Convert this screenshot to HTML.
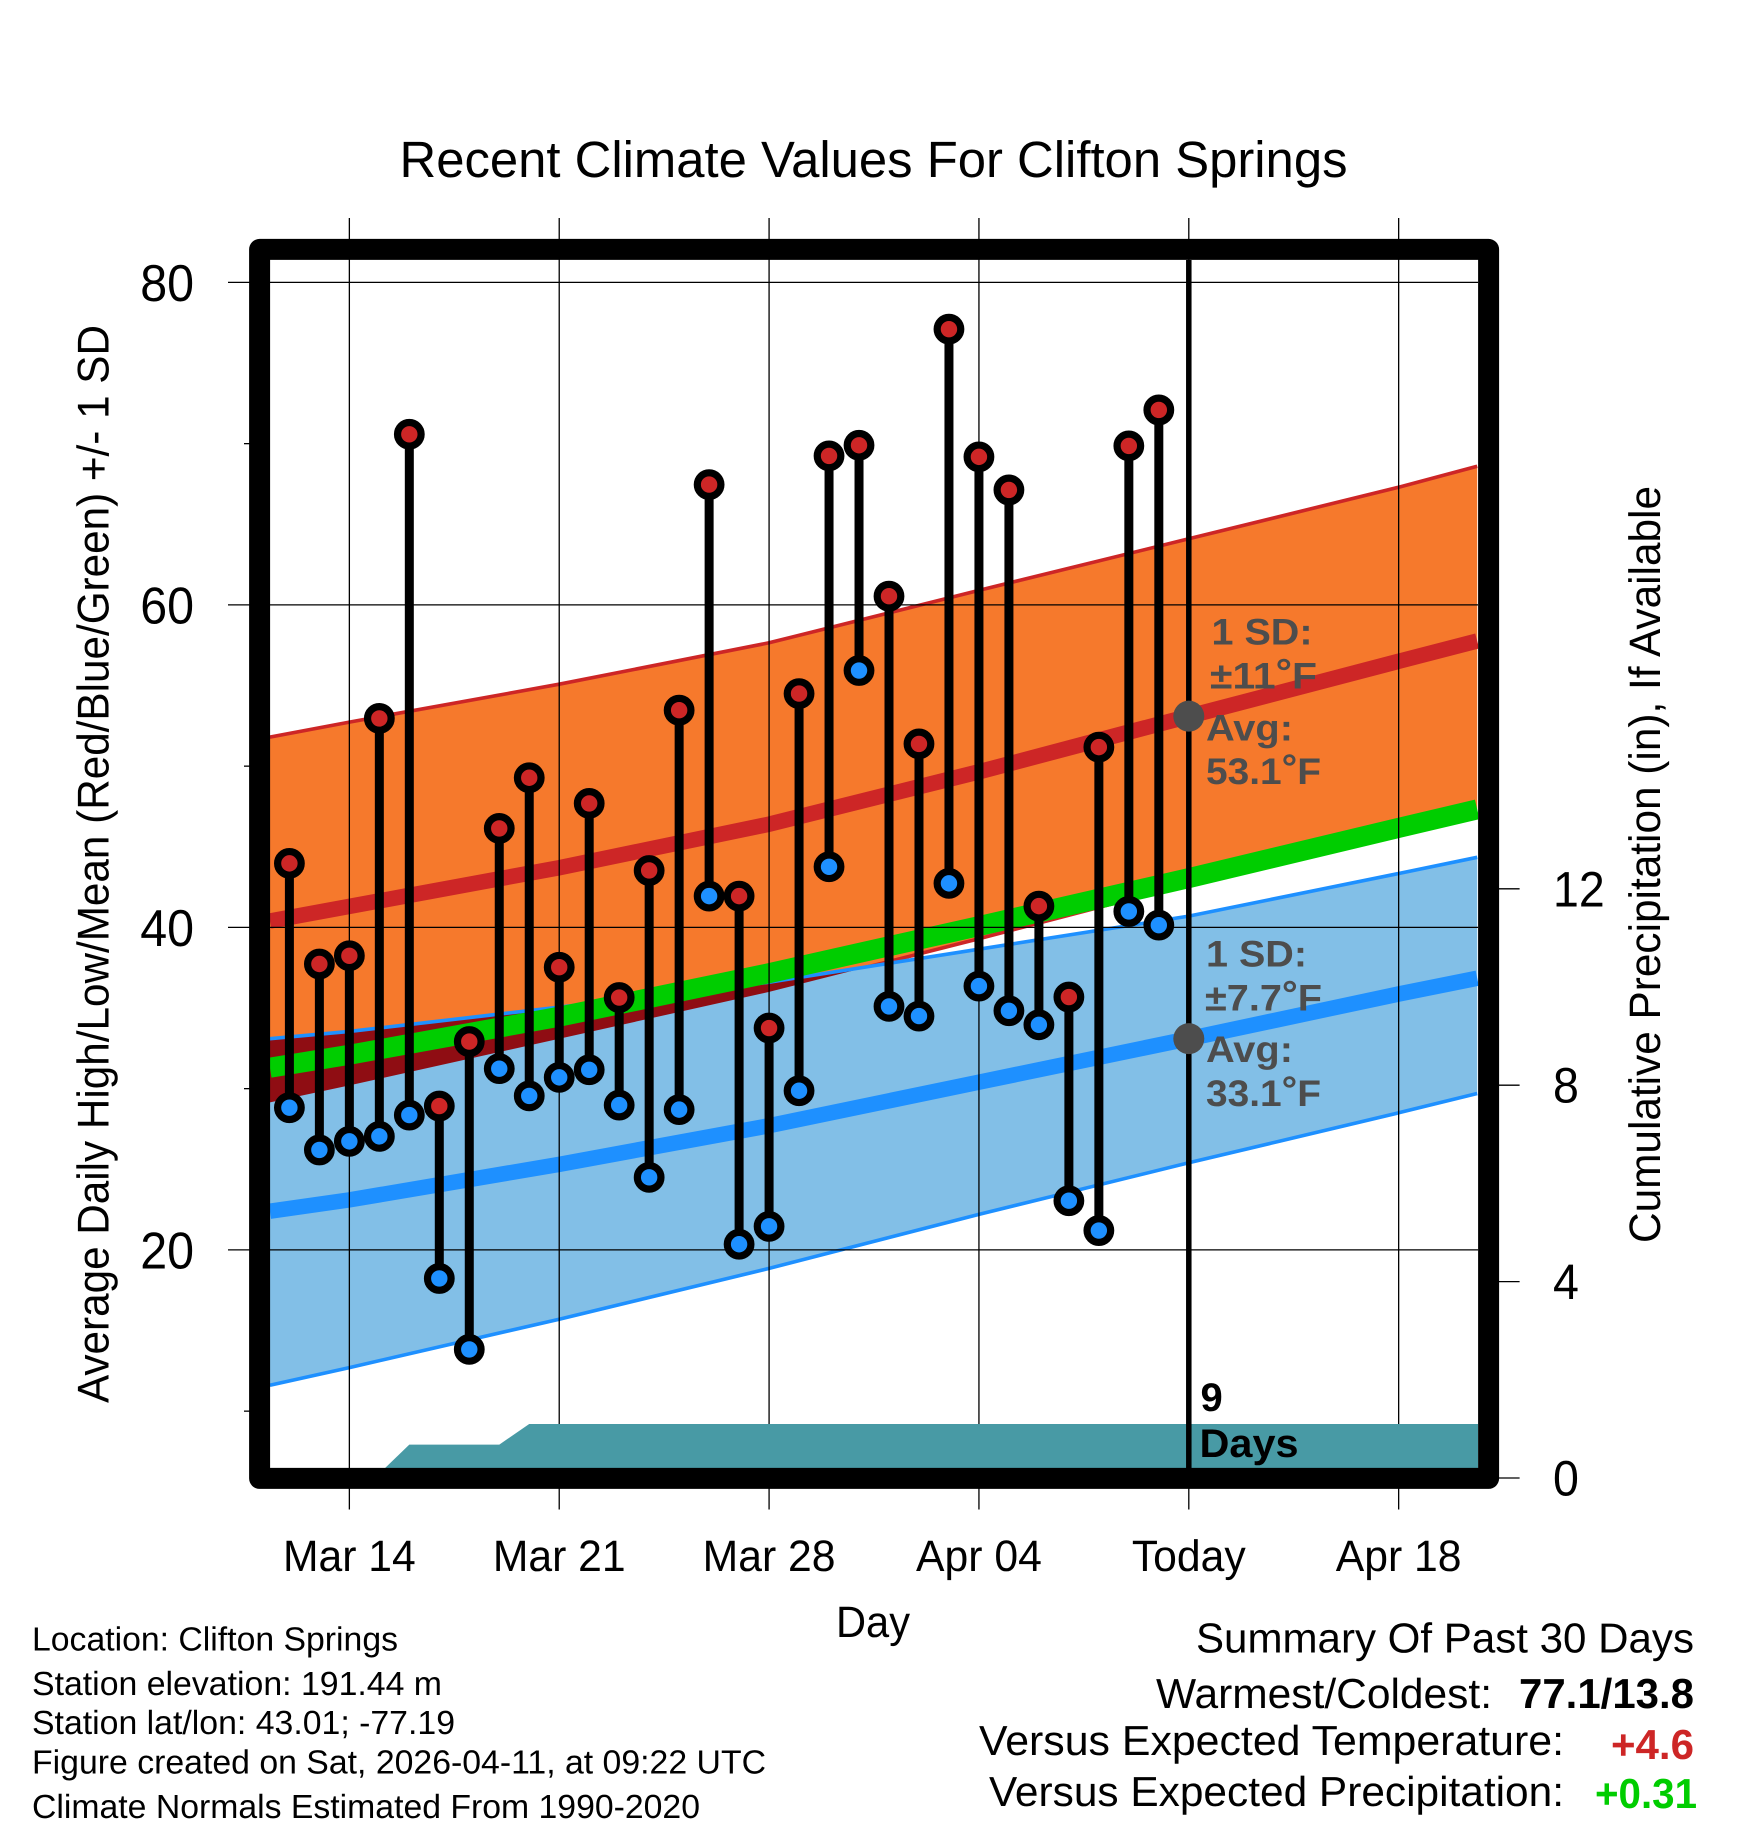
<!DOCTYPE html>
<html lang="en">
<head>
<meta charset="utf-8">
<title>Recent Climate Values For Clifton Springs</title>
<style>
html,body{margin:0;padding:0;background:#fff;}
svg{display:block;}
text{font-family:"Liberation Sans",Arial,Helvetica,sans-serif;fill:#000;text-rendering:geometricPrecision;}
.ann{font-weight:bold;font-size:37px;fill:#4d4d4d;}
.meta{font-size:33.5px;}
.sum{font-size:42px;}
</style>
</head>
<body>
<svg id="chart" xmlns="http://www.w3.org/2000/svg" width="1748" height="1828" viewBox="0 0 1748 1828">
  <rect x="0" y="0" width="1748" height="1828" fill="#ffffff"/>
  <defs>
    <clipPath id="plot-clip"><rect x="270" y="260" width="1208" height="1208"/></clipPath>
    <clipPath id="low-band-clip"><polygon id="low-band-clip-shape" points="0,0"/></clipPath>
  </defs>
  <g id="plot-layer" clip-path="url(#plot-clip)"></g>
  <g id="tick-layer"></g>
  <g id="teal-layer" clip-path="url(#plot-clip)"></g>
  <g id="mark-layer" clip-path="url(#plot-clip)"></g>
  <rect x="259.6" y="249.4" width="1229" height="1229" fill="none" stroke="#000" stroke-width="21" stroke-linejoin="round"/>

  <text x="399.5" y="177" font-size="51" textLength="948" lengthAdjust="spacingAndGlyphs">Recent Climate Values For Clifton Springs</text>

  <text transform="translate(108.5,1403) rotate(-90)" font-size="44.5" textLength="1078" lengthAdjust="spacingAndGlyphs">Average Daily High/Low/Mean (Red/Blue/Green) +/- 1 SD</text>
  <text transform="translate(1660,1243) rotate(-90)" font-size="44" textLength="757" lengthAdjust="spacingAndGlyphs">Cumulative Precipitation (in), If Available</text>
  <text x="836" y="1637" font-size="44" textLength="74" lengthAdjust="spacingAndGlyphs">Day</text>

  <g id="annotations">
    <text class="ann" x="1211.5" y="644.5" textLength="101" lengthAdjust="spacingAndGlyphs">1 SD:</text>
    <text class="ann" x="1210" y="688.5" textLength="107" lengthAdjust="spacingAndGlyphs">±11<tspan dy="-4">°</tspan><tspan dy="4">F</tspan></text>
    <text class="ann" x="1206" y="740.6" textLength="87" lengthAdjust="spacingAndGlyphs">Avg:</text>
    <text class="ann" x="1206" y="784" textLength="115" lengthAdjust="spacingAndGlyphs">53.1<tspan dy="-4">°</tspan><tspan dy="4">F</tspan></text>
    <text class="ann" x="1206" y="966.4" textLength="101" lengthAdjust="spacingAndGlyphs">1 SD:</text>
    <text class="ann" x="1205" y="1010.4" textLength="117" lengthAdjust="spacingAndGlyphs">±7.7<tspan dy="-4">°</tspan><tspan dy="4">F</tspan></text>
    <text class="ann" x="1206" y="1062" textLength="87" lengthAdjust="spacingAndGlyphs">Avg:</text>
    <text class="ann" x="1206" y="1106" textLength="115" lengthAdjust="spacingAndGlyphs">33.1<tspan dy="-4">°</tspan><tspan dy="4">F</tspan></text>
    <text x="1200.5" y="1411" font-size="40" font-weight="bold">9</text>
    <text x="1199.5" y="1457" font-size="40" font-weight="bold" textLength="99" lengthAdjust="spacingAndGlyphs">Days</text>
  </g>

  <g id="station-info">
    <text class="meta" x="32" y="1650.7" textLength="366" lengthAdjust="spacingAndGlyphs">Location: Clifton Springs</text>
    <text class="meta" x="32" y="1695" textLength="410" lengthAdjust="spacingAndGlyphs">Station elevation: 191.44 m</text>
    <text class="meta" x="32" y="1734" textLength="423" lengthAdjust="spacingAndGlyphs">Station lat/lon: 43.01; -77.19</text>
    <text class="meta" x="32" y="1773.5" textLength="734" lengthAdjust="spacingAndGlyphs">Figure created on Sat, 2026-04-11, at 09:22 UTC</text>
    <text class="meta" x="32" y="1818" textLength="668" lengthAdjust="spacingAndGlyphs">Climate Normals Estimated From 1990-2020</text>
  </g>

  <g id="summary">
    <text class="sum" x="1196" y="1652.7" textLength="498" lengthAdjust="spacingAndGlyphs">Summary Of Past 30 Days</text>
    <text class="sum" x="1156" y="1708" textLength="336" lengthAdjust="spacingAndGlyphs">Warmest/Coldest:</text>
    <text class="sum" x="1519" y="1708" font-weight="bold" textLength="175" lengthAdjust="spacingAndGlyphs">77.1/13.8</text>
    <text class="sum" x="979" y="1755" textLength="585" lengthAdjust="spacingAndGlyphs">Versus Expected Temperature:</text>
    <text class="sum" x="1611" y="1759" font-weight="bold" style="fill:#cd2626" textLength="83" lengthAdjust="spacingAndGlyphs">+4.6</text>
    <text class="sum" x="989" y="1806" textLength="575" lengthAdjust="spacingAndGlyphs">Versus Expected Precipitation:</text>
    <text class="sum" x="1595" y="1808" font-weight="bold" style="fill:#00cd00" textLength="102" lengthAdjust="spacingAndGlyphs">+0.31</text>
  </g>
</svg>

<script>
// ---- Observed daily values (deg F), Mar 12 .. Apr 10 ----
const dailyHigh = [43.97,37.73,38.24,52.96,70.58,28.92,32.92,46.14,49.28,37.53,47.69,35.65,43.53,53.47,67.46,41.94,33.76,54.5,69.24,69.9,60.54,51.38,77.1,69.18,67.13,41.32,35.68,51.18,69.86,72.09];
const dailyLow = [28.82,26.2,26.73,27.04,28.36,18.23,13.83,31.24,29.55,30.7,31.17,28.98,24.5,28.7,41.94,20.35,21.46,29.87,43.76,55.93,35.1,34.5,42.73,36.36,34.83,33.96,23.05,21.2,40.99,40.14];

// ---- Climate normals read at the plot edges and each date tick (days since Mar 12) ----
const normalDays = [-0.65,2,9,16,23,30,37,39.62];
const highUpper = [51.8,52.73,55.08,57.65,60.9,64.1,67.3,68.6];
const highMean = [40.4,41.3,43.7,46.4,49.65,53.1,56.5,57.76];
const highLower = [29.15,30.2,33.1,36.0,39.3,42.7,45.9,47.1];
const meanNormal = [31.3,32.1,34.46,37.16,40.08,43.06,46.17,47.32];
const lowUpper = [33.1,33.55,35.05,36.6,38.65,40.7,43.34,44.35];
const lowMean = [22.4,23.1,25.3,27.7,30.4,33.1,35.87,36.85];
const lowLower = [11.6,12.7,15.7,18.85,22.2,25.4,28.5,29.7];

// ---- Cumulative precipitation (in), one value per day from Mar 12 ----
const precipCumulative = [0,0,0,0.09,0.68,0.68,0.68,0.68,1.1,1.1,1.1,1.1,1.1,1.1,1.1,1.1,1.1,1.1,1.1,1.1,1.1,1.1,1.1,1.1,1.1,1.1,1.1,1.1,1.1,1.1,1.1,1.1,1.1,1.1,1.1,1.1,1.1,1.1,1.1,1.1,1.1];

// ---- Today's normals shown by the grey dots ----
const todayDay = 30;
const todayHighAvg = 53.1;
const todayLowAvg = 33.1;

// ---- Axis ticks ----
const dateTickDays = [2,9,16,23,30,37];
const dateTickLabels = ['Mar 14','Mar 21','Mar 28','Apr 04','Today','Apr 18'];
const tempMajorTicks = [80,60,40,20];
const tempMinorTicks = [70,50,30,10];
const precipTicks = [12,8,4,0];

// ---- Axis functions ----
function xDay(d){ return 289.4 + 29.98 * d; }
function yTemp(t){ return 282.4 + (80 - t) * 16.125; }
function yPrecip(p){ return 1478 - p * 49.1; }

const SVGNS = 'http://www.w3.org/2000/svg';
function make(parent, tag, attrs){
  const el = document.createElementNS(SVGNS, tag);
  Object.keys(attrs).forEach(function(k){ el.setAttribute(k, attrs[k]); });
  parent.appendChild(el);
  return el;
}
function linePts(days, vals){
  return days.map(function(d, i){ return xDay(d).toFixed(1) + ',' + yTemp(vals[i]).toFixed(1); });
}
function bandPts(days, top, bottom){
  return linePts(days, top).concat(linePts(days, bottom).reverse()).join(' ');
}
function squeeze(el, factor){
  el.setAttribute('textLength', (el.getComputedTextLength() * factor).toFixed(1));
  el.setAttribute('lengthAdjust', 'spacingAndGlyphs');
}

const plot = document.getElementById('plot-layer');
const ticks = document.getElementById('tick-layer');
const teal = document.getElementById('teal-layer');
const marks = document.getElementById('mark-layer');

document.getElementById('low-band-clip-shape').setAttribute('points', bandPts(normalDays, lowUpper, lowLower));

// Bands
const highBand = make(plot, 'polygon', {points: bandPts(normalDays, highUpper, highLower), fill: '#f6792c'});



const highTopEdge = make(plot, 'polyline', {points: linePts(normalDays, highUpper).join(' '), fill: 'none', stroke: '#cd2626', 'stroke-width': 3.6});



const highBottomEdge = make(plot, 'polyline', {points: linePts(normalDays, highLower).join(' '), fill: 'none', stroke: '#cd2626', 'stroke-width': 3.6});



const lowBand = make(plot, 'polygon', {points: bandPts(normalDays, lowUpper, lowLower), fill: '#82bfe7'});



const overlap = make(plot, 'polygon', {points: bandPts(normalDays, highUpper, highLower), fill: '#8f0d13', 'clip-path': 'url(#low-band-clip)'});



const lowTopEdge = make(plot, 'polyline', {points: linePts(normalDays, lowUpper).join(' '), fill: 'none', stroke: '#1e90ff', 'stroke-width': 3.6});



const lowBottomEdge = make(plot, 'polyline', {points: linePts(normalDays, lowLower).join(' '), fill: 'none', stroke: '#1e90ff', 'stroke-width': 3.6});



const highMeanLine = make(plot, 'polyline', {points: linePts(normalDays, highMean).join(' '), fill: 'none', stroke: '#cd2626', 'stroke-width': 15.5});



const lowMeanLine = make(plot, 'polyline', {points: linePts(normalDays, lowMean).join(' '), fill: 'none', stroke: '#1e90ff', 'stroke-width': 15.5});



const meanLine = make(plot, 'polyline', {points: linePts(normalDays, meanNormal).join(' '), fill: 'none', stroke: '#00cd00', 'stroke-width': 20});



// Horizontal grid + tick labels (left axis)
tempMajorTicks.forEach(function(t){
  const gl = make(ticks, 'line', {x1: 228, x2: 1478, y1: yTemp(t), y2: yTemp(t), stroke: '#000', 'stroke-width': 1.3});
  
  
  const tl = make(ticks, 'text', {x: 194, y: yTemp(t) + 18.5, 'text-anchor': 'end', 'font-size': 52});
  
  
  tl.textContent = String(t);
  squeeze(tl, 0.93);
});
tempMinorTicks.forEach(function(t){
  const mt = make(ticks, 'line', {x1: 244, x2: 250, y1: yTemp(t), y2: yTemp(t), stroke: '#000', 'stroke-width': 1.3});
  
  
});

// Vertical grid + date labels
dateTickDays.forEach(function(d, i){
  const gl = make(ticks, 'line', {x1: xDay(d), x2: xDay(d), y1: 218, y2: 1509.5, stroke: '#000', 'stroke-width': 1.3});
  
  
  const tl = make(ticks, 'text', {x: xDay(d), y: 1571, 'text-anchor': 'middle', 'font-size': 44});
  
  
  tl.textContent = dateTickLabels[i];
  squeeze(tl, 0.97);
});

// Right axis
precipTicks.forEach(function(p){
  const rt = make(ticks, 'line', {x1: 1498, x2: 1519.6, y1: yPrecip(p), y2: yPrecip(p), stroke: '#000', 'stroke-width': 1.3});
  
  
  const tl = make(ticks, 'text', {x: 1553, y: yPrecip(p) + 17.5, 'font-size': 50});
  
  
  tl.textContent = String(p);
  squeeze(tl, 0.93);
});

// Precipitation area
const precipPts = precipCumulative.map(function(p, i){ return xDay(i).toFixed(1) + ',' + yPrecip(p).toFixed(1); });
precipPts.unshift(xDay(0).toFixed(1) + ',' + yPrecip(0).toFixed(1));
precipPts.push(xDay(precipCumulative.length - 1).toFixed(1) + ',' + yPrecip(0).toFixed(1));
const precipArea = make(teal, 'polygon', {points: precipPts.join(' '), fill: '#489aa5'});



// Today line
const todayLine = make(marks, 'line', {x1: xDay(todayDay), x2: xDay(todayDay), y1: 255, y2: 1470, stroke: '#000', 'stroke-width': 5.5});



// Daily stems and markers
dailyHigh.forEach(function(hi, i){
  const lo = dailyLow[i];
  const x = xDay(i);
  const stem = make(marks, 'line', {x1: x, x2: x, y1: yTemp(hi), y2: yTemp(lo), stroke: '#000', 'stroke-width': 9});
  
  
  const hiDot = make(marks, 'circle', {cx: x, cy: yTemp(hi), r: 11.8, fill: '#cd2626', stroke: '#000', 'stroke-width': 7.2});
  
  
  const loDot = make(marks, 'circle', {cx: x, cy: yTemp(lo), r: 11.8, fill: '#1e90ff', stroke: '#000', 'stroke-width': 7.2});
  
  
});

// Today's normal dots
const highAvgDot = make(marks, 'circle', {cx: xDay(todayDay), cy: yTemp(todayHighAvg), r: 15.5, fill: '#4d4d4d'});



const lowAvgDot = make(marks, 'circle', {cx: xDay(todayDay), cy: yTemp(todayLowAvg), r: 15.5, fill: '#4d4d4d'});


</script>
</body>
</html>
